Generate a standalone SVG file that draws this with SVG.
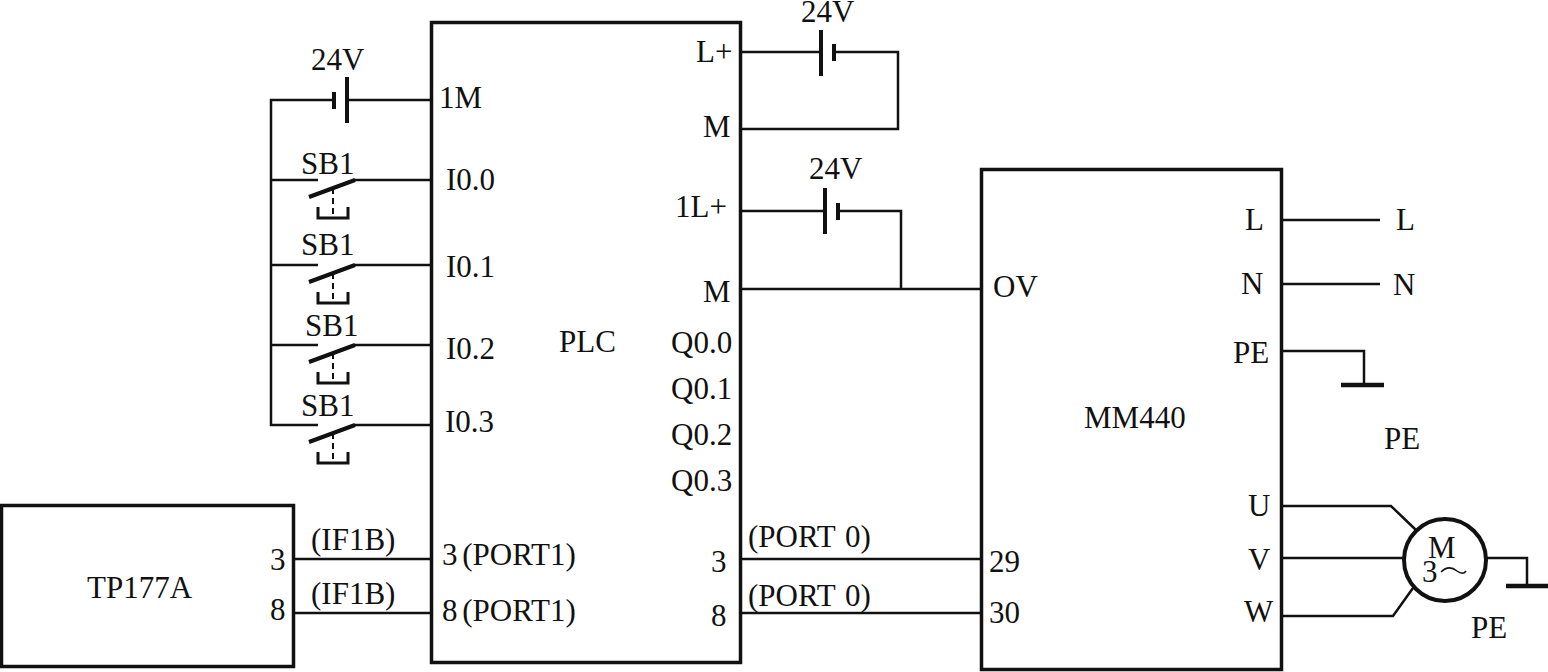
<svg xmlns="http://www.w3.org/2000/svg" width="1548" height="672" viewBox="0 0 1548 672">
<style>
text{font-family:"Liberation Serif","Times New Roman",serif;font-size:31px;fill:#111}
.b{fill:none;stroke:#111;stroke-width:3.5}
.w{fill:none;stroke:#111;stroke-width:2.5}
.t{fill:none;stroke:#111;stroke-width:4}
.g{fill:none;stroke:#111;stroke-width:4.5}
.s{fill:none;stroke:#111;stroke-width:3}
.d{fill:none;stroke:#111;stroke-width:2;stroke-dasharray:6 4}
</style>
<defs>
<g id="sw">
<path class="t" d="M309 17L355 0"/>
<path class="d" d="M333 8V38"/>
<path class="s" d="M318 27V38H348V27"/>
</g>
</defs>
<rect width="1548" height="672" fill="#fff"/>
<g id="connectors">
<path class="w" d="M431 100H347M334 100H271V425H318M271 180H318M271 265H318M271 345H318"/>
<path class="w" d="M354 180H431M354 265H431M354 345H431M354 425H431"/>
<path class="w" d="M741 52H821M834 52H898V129H741"/>
<path class="w" d="M741 211H825M838 211H901V289M741 289H981"/>
<path class="w" d="M1282 220H1380M1282 284H1380M1282 351H1364V384"/>
<path class="w" d="M294 559H431M294 613H431M741 559H981M741 613H981"/>
<path class="w" d="M1282 506H1391L1416 530M1282 558H1404M1282 616H1393L1413 588M1487 558H1527V586"/>
</g>
<g id="batteries">
<path class="t" d="M347 77V123M334 92V109"/>
<path class="t" d="M821 30V76M834 44V61"/>
<path class="t" d="M825 188V234M838 203V220"/>
<path class="g" d="M1341 385H1384M1506 586H1548"/>
</g>
<g id="switches">
<use href="#sw" y="180"/>
<use href="#sw" y="265"/>
<use href="#sw" y="345"/>
<use href="#sw" y="425"/>
</g>
<g id="plc">
<rect class="b" x="431.500" y="22.500" width="309" height="640"/>
<text x="559" y="352">PLC</text>
<text x="439" y="108">1M</text>
<text x="446" y="190">I0.0</text>
<text x="446" y="277">I0.1</text>
<text x="446" y="359">I0.2</text>
<text x="445" y="432">I0.3</text>
<text x="442" y="565" word-spacing="-3">3 (PORT1)</text>
<text x="442" y="621" word-spacing="-3">8 (PORT1)</text>
<text x="696" y="62">L+</text>
<text x="703" y="137">M</text>
<text x="675" y="217">1L+</text>
<text x="703" y="302">M</text>
<text x="671" y="353">Q0.0</text>
<text x="671" y="399">Q0.1</text>
<text x="671" y="445">Q0.2</text>
<text x="671" y="491">Q0.3</text>
<text x="711" y="572">3</text>
<text x="711" y="626">8</text>
</g>
<g id="mm440">
<rect class="b" x="981.500" y="169.500" width="300" height="500"/>
<text x="1084" y="428">MM440</text>
<text x="993" y="297">OV</text>
<text x="989" y="572">29</text>
<text x="989" y="623">30</text>
<text x="1245" y="230">L</text>
<text x="1241" y="294">N</text>
<text x="1233" y="363">PE</text>
<text x="1248" y="516">U</text>
<text x="1248" y="570">V</text>
<text x="1244" y="622">W</text>
</g>
<g id="tp177a">
<rect class="b" x="1.500" y="505.500" width="292" height="161"/>
<text x="87" y="598">TP177A</text>
<text x="270" y="570">3</text>
<text x="270" y="620">8</text>
</g>
<g id="motor">
<circle cx="1445" cy="560" r="41" fill="#fff" stroke="#111" stroke-width="4"/>
<text x="1428" y="558">M</text>
<text x="1422" y="582">3</text>
<path fill="none" stroke="#111" stroke-width="1.500" d="M1441 572C1447 566 1452 567 1457 571C1461 574 1464 574 1466 571"/>
</g>
<g id="labels">
<text x="311" y="70">24V</text>
<text x="801" y="22">24V</text>
<text x="809" y="179">24V</text>
<text x="301" y="174">SB1</text>
<text x="301" y="255">SB1</text>
<text x="305" y="336">SB1</text>
<text x="301" y="416">SB1</text>
<text x="311" y="550">(IF1B)</text>
<text x="311" y="604">(IF1B)</text>
<text x="748" y="547" word-spacing="2">(PORT 0)</text>
<text x="748" y="606" word-spacing="2">(PORT 0)</text>
<text x="1396" y="230">L</text>
<text x="1393" y="295">N</text>
<text x="1384" y="449">PE</text>
<text x="1471" y="638">PE</text>
</g>
</svg>
